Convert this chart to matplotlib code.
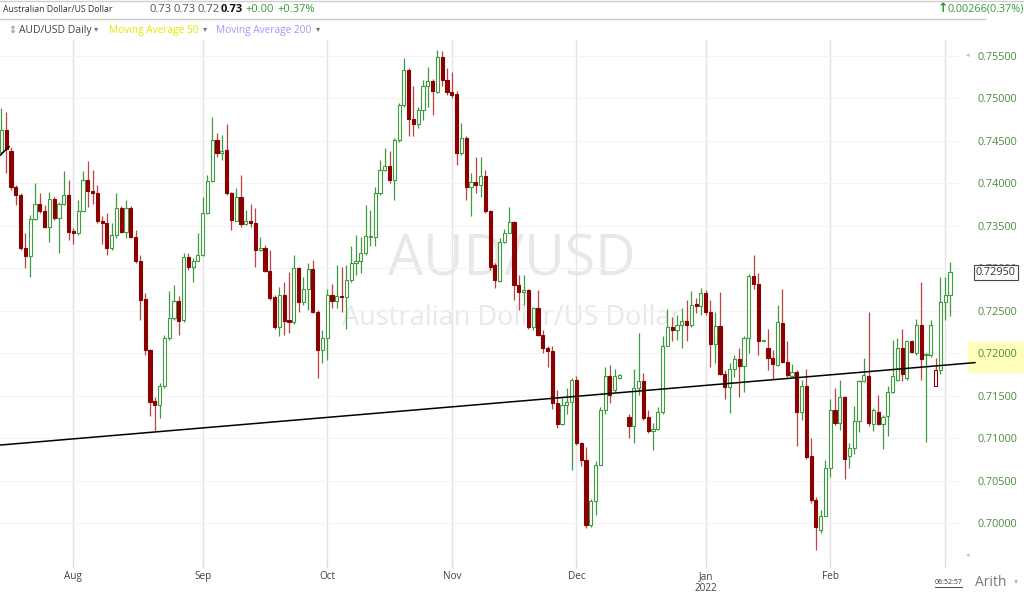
import numpy as np
import pandas as pd
import matplotlib
matplotlib.use('Agg')
import matplotlib.pyplot as plt
import matplotlib.transforms as mtransforms
from matplotlib.patches import Rectangle
from matplotlib.lines import Line2D

plt.rcParams['font.family'] = ['Open Sans', 'DejaVu Sans']

nan = np.nan

# daily AUD/USD bars (forex, no Saturday bars), 14 Jul 2021 .. 2 Mar 2022
opens = [
    0.7437, 0.7463, 0.7438, 0.7396, 0.7386, 0.7324, 0.7314, 0.7358, 0.7376, 0.7367,
    0.7349, 0.7382, 0.7359, 0.7376, 0.7386, 0.7344, 0.7341, 0.7367, 0.7404, 0.7391,
    0.7388, 0.7355, 0.7353, 0.7324, 0.7339, 0.7371, 0.7343, 0.7371, 0.7337, 0.7308,
    0.7264, 0.7204, 0.7144, 0.7139, 0.7161, 0.7218, 0.7242, 0.7261, 0.7239, 0.7313,
    0.7301, 0.7309, 0.7316, 0.7365, 0.7403, 0.7451, 0.7435, 0.7439, 0.7388, 0.7356,
    0.7384, 0.7352, 0.7355, 0.7353, 0.7321, 0.7324, 0.7297, 0.7266, 0.7231, 0.7269,
    0.7239, 0.7237, 0.7300, 0.7260, 0.7276, 0.7299, 0.7249, 0.7204, 0.7218, 0.7269,
    0.7262, 0.7267, 0.7266, 0.7286, 0.7306, 0.7309, 0.7318, 0.7337, 0.7337, 0.7388,
    0.7416, 0.7420, 0.7404, 0.7451, 0.7492, 0.7533, 0.7475, 0.7470, 0.7486, 0.7514,
    0.7520, 0.7507, 0.7549, 0.7522, 0.7507, 0.7505, 0.7435, 0.7453, 0.7396, 0.7402,
    0.7398, 0.7408, 0.7367, 0.7304, 0.7285, 0.7331, 0.7342, 0.7354, 0.7280, 0.7272,
    0.7274, 0.7231, 0.7253, 0.7222, 0.7206, 0.7203, 0.7141, 0.7117, 0.7139, 0.7143,
    0.7169, 0.7095, 0.7075, 0.6998, 0.7026, 0.7069, 0.7133, 0.7173, 0.7157, 0.7171,
    nan, 0.7125, 0.7114, 0.7159, 0.7167, 0.7125, 0.7108, 0.7111, 0.7131, 0.7209,
    0.7231, 0.7227, 0.7233, 0.7238, 0.7233, 0.7258, 0.7256, 0.7271, 0.7249, 0.7211,
    0.7232, 0.7176, 0.7160, 0.7181, 0.7193, 0.7185, 0.7218, 0.7291, 0.7281, 0.7214,
    0.7206, 0.7195, 0.7186, 0.7236, 0.7190, 0.7173, 0.7178, 0.7131, 0.7161, 0.7079,
    0.7027, 0.6992, 0.7009, 0.7065, 0.7133, 0.7118, 0.7148, 0.7079, 0.7089, 0.7120,
    0.7167, 0.7173, 0.7117, 0.7131, 0.7117, 0.7126, 0.7154, 0.7169, 0.7206, 0.7171,
    0.7214, 0.7200, 0.7233, 0.7198, 0.7198, 0.7161, 0.7180, 0.7260, 0.7269,
]
highs = [
    0.7488, 0.7484, 0.7443, 0.7398, 0.7388, 0.7341, 0.7363, 0.7400, 0.7388, 0.7374,
    0.7390, 0.7384, 0.7378, 0.7414, 0.7404, 0.7347, 0.7380, 0.7414, 0.7426, 0.7416,
    0.7398, 0.7361, 0.7365, 0.7353, 0.7389, 0.7373, 0.7380, 0.7373, 0.7345, 0.7316,
    0.7271, 0.7205, 0.7149, 0.7165, 0.7222, 0.7273, 0.7280, 0.7267, 0.7318, 0.7318,
    0.7312, 0.7341, 0.7384, 0.7410, 0.7478, 0.7459, 0.7457, 0.7470, 0.7390, 0.7394,
    0.7410, 0.7369, 0.7376, 0.7371, 0.7337, 0.7327, 0.7322, 0.7269, 0.7278, 0.7284,
    0.7296, 0.7316, 0.7302, 0.7290, 0.7306, 0.7310, 0.7251, 0.7227, 0.7276, 0.7282,
    0.7304, 0.7302, 0.7304, 0.7326, 0.7339, 0.7337, 0.7374, 0.7369, 0.7396, 0.7427,
    0.7441, 0.7438, 0.7453, 0.7494, 0.7547, 0.7535, 0.7514, 0.7490, 0.7522, 0.7537,
    0.7523, 0.7557, 0.7555, 0.7535, 0.7531, 0.7508, 0.7471, 0.7455, 0.7412, 0.7431,
    0.7431, 0.7416, 0.7369, 0.7306, 0.7335, 0.7346, 0.7372, 0.7356, 0.7292, 0.7292,
    0.7276, 0.7255, 0.7274, 0.7227, 0.7208, 0.7208, 0.7157, 0.7147, 0.7159, 0.7171,
    0.7173, 0.7096, 0.7090, 0.7029, 0.7073, 0.7137, 0.7184, 0.7186, 0.7182, 0.7176,
    nan, 0.7129, 0.7182, 0.7224, 0.7177, 0.7133, 0.7118, 0.7137, 0.7220, 0.7252,
    0.7243, 0.7245, 0.7253, 0.7263, 0.7273, 0.7265, 0.7277, 0.7274, 0.7263, 0.7249,
    0.7272, 0.7180, 0.7188, 0.7198, 0.7206, 0.7220, 0.7293, 0.7316, 0.7294, 0.7216,
    0.7229, 0.7204, 0.7257, 0.7276, 0.7214, 0.7187, 0.7180, 0.7169, 0.7182, 0.7100,
    0.7031, 0.7016, 0.7075, 0.7146, 0.7159, 0.7168, 0.7150, 0.7094, 0.7138, 0.7169,
    0.7195, 0.7249, 0.7136, 0.7151, 0.7127, 0.7161, 0.7216, 0.7218, 0.7228, 0.7216,
    0.7216, 0.7240, 0.7284, 0.7200, 0.7239, 0.7194, 0.7290, 0.7290, 0.7307,
]
lows = [
    0.7433, 0.7412, 0.7392, 0.7374, 0.7322, 0.7300, 0.7290, 0.7357, 0.7365, 0.7347,
    0.7331, 0.7357, 0.7318, 0.7374, 0.7333, 0.7329, 0.7339, 0.7367, 0.7372, 0.7376,
    0.7353, 0.7329, 0.7316, 0.7322, 0.7335, 0.7341, 0.7335, 0.7335, 0.7306, 0.7239,
    0.7198, 0.7126, 0.7108, 0.7124, 0.7159, 0.7216, 0.7239, 0.7222, 0.7237, 0.7298,
    0.7284, 0.7308, 0.7314, 0.7364, 0.7402, 0.7431, 0.7427, 0.7386, 0.7345, 0.7355,
    0.7349, 0.7351, 0.7349, 0.7302, 0.7320, 0.7296, 0.7263, 0.7229, 0.7220, 0.7222,
    0.7224, 0.7235, 0.7249, 0.7257, 0.7251, 0.7247, 0.7171, 0.7188, 0.7192, 0.7253,
    0.7253, 0.7249, 0.7228, 0.7284, 0.7292, 0.7294, 0.7316, 0.7326, 0.7326, 0.7386,
    0.7414, 0.7400, 0.7380, 0.7449, 0.7490, 0.7455, 0.7455, 0.7465, 0.7474, 0.7490,
    0.7480, 0.7506, 0.7514, 0.7504, 0.7500, 0.7422, 0.7433, 0.7380, 0.7361, 0.7388,
    0.7384, 0.7365, 0.7298, 0.7277, 0.7284, 0.7330, 0.7341, 0.7263, 0.7251, 0.7257,
    0.7229, 0.7227, 0.7220, 0.7200, 0.7184, 0.7135, 0.7112, 0.7116, 0.7129, 0.7063,
    0.7092, 0.7067, 0.6994, 0.6996, 0.7010, 0.7069, 0.7129, 0.7141, 0.7155, 0.7170,
    nan, 0.7100, 0.7094, 0.7151, 0.7122, 0.7106, 0.7086, 0.7110, 0.7129, 0.7208,
    0.7214, 0.7216, 0.7206, 0.7214, 0.7231, 0.7247, 0.7245, 0.7245, 0.7184, 0.7188,
    0.7174, 0.7146, 0.7130, 0.7172, 0.7149, 0.7155, 0.7200, 0.7276, 0.7198, 0.7214,
    0.7180, 0.7170, 0.7185, 0.7188, 0.7172, 0.7172, 0.7091, 0.7121, 0.7076, 0.7024,
    0.6969, 0.6988, 0.7008, 0.7055, 0.7116, 0.7110, 0.7052, 0.7065, 0.7082, 0.7107,
    0.7166, 0.7114, 0.7108, 0.7116, 0.7087, 0.7103, 0.7153, 0.7167, 0.7167, 0.7169,
    0.7200, 0.7198, 0.7169, 0.7096, 0.7196, 0.7161, 0.7176, 0.7239, 0.7244,
]
closes = [
    0.7463, 0.7440, 0.7396, 0.7386, 0.7324, 0.7314, 0.7358, 0.7376, 0.7367, 0.7349,
    0.7382, 0.7359, 0.7376, 0.7386, 0.7343, 0.7341, 0.7367, 0.7404, 0.7391, 0.7388,
    0.7355, 0.7353, 0.7324, 0.7339, 0.7371, 0.7343, 0.7371, 0.7337, 0.7308, 0.7263,
    0.7204, 0.7143, 0.7139, 0.7161, 0.7218, 0.7242, 0.7261, 0.7238, 0.7313, 0.7301,
    0.7309, 0.7316, 0.7365, 0.7403, 0.7451, 0.7435, 0.7438, 0.7388, 0.7357, 0.7384,
    0.7352, 0.7355, 0.7353, 0.7321, 0.7324, 0.7297, 0.7265, 0.7231, 0.7269, 0.7238,
    0.7237, 0.7300, 0.7260, 0.7276, 0.7299, 0.7249, 0.7204, 0.7218, 0.7269, 0.7262,
    0.7267, 0.7266, 0.7286, 0.7306, 0.7309, 0.7318, 0.7338, 0.7338, 0.7388, 0.7416,
    0.7420, 0.7404, 0.7451, 0.7492, 0.7533, 0.7475, 0.7470, 0.7486, 0.7514, 0.7520,
    0.7508, 0.7549, 0.7522, 0.7507, 0.7504, 0.7435, 0.7453, 0.7396, 0.7401, 0.7398,
    0.7408, 0.7367, 0.7302, 0.7286, 0.7331, 0.7342, 0.7354, 0.7280, 0.7272, 0.7274,
    0.7231, 0.7253, 0.7222, 0.7206, 0.7203, 0.7141, 0.7117, 0.7139, 0.7143, 0.7169,
    0.7095, 0.7075, 0.6998, 0.7026, 0.7069, 0.7133, 0.7173, 0.7151, 0.7173, 0.7175,
    nan, 0.7114, 0.7159, 0.7167, 0.7124, 0.7108, 0.7111, 0.7131, 0.7209, 0.7231,
    0.7227, 0.7233, 0.7238, 0.7233, 0.7257, 0.7256, 0.7271, 0.7248, 0.7211, 0.7232,
    0.7176, 0.7160, 0.7181, 0.7193, 0.7185, 0.7218, 0.7291, 0.7281, 0.7215, 0.7216,
    0.7194, 0.7187, 0.7237, 0.7190, 0.7174, 0.7178, 0.7131, 0.7161, 0.7078, 0.7027,
    0.6996, 0.7009, 0.7065, 0.7133, 0.7118, 0.7148, 0.7076, 0.7089, 0.7120, 0.7167,
    0.7174, 0.7118, 0.7133, 0.7117, 0.7125, 0.7154, 0.7173, 0.7206, 0.7176, 0.7214,
    0.7201, 0.7233, 0.7193, 0.7199, 0.7233, 0.7180, 0.7260, 0.7269, 0.7295,
]

# hand drawn trendline (bar index, price) and a stub of an older line at the left
trend_idx = [-0.3, 203.2]
trend_px = [0.7092, 0.7189]
stub_idx = [-0.3, 1.6]
stub_px = [0.7433, 0.7443]

price_ticks = [0.700, 0.705, 0.710, 0.715, 0.720, 0.725, 0.730, 0.735, 0.740, 0.745, 0.750, 0.755]
last_price = 0.7295

dates = pd.date_range('2021-07-14', '2022-03-02')
dates = dates[dates.dayofweek != 5]

o = np.array(opens)
h = np.array(highs)
l = np.array(lows)
c = np.array(closes)
x = np.arange(len(c))
ok = ~np.isnan(c)

prev_c = pd.Series(c).ffill().shift(1).to_numpy()
down = c < prev_c
filled = c < o

RED = '#8b0000'
RED_WICK = '#b84444'
GREEN = '#3f9b3f'

W, H = 1024, 596
fig = plt.figure(figsize=(W / 100, H / 100), dpi=100)
ax = fig.add_axes([0, (H - 560) / H, 962 / W, 520 / H])
ax.set_xlim(-0.31, 200.5)
ax.set_ylim(0.69568, 0.75685)
for s in ax.spines.values():
    s.set_visible(False)

edge = np.where(down, RED, GREEN)
wick = np.where(down, RED_WICK, GREEN)
face = np.where(filled, edge, 'white')

ax.vlines(x[ok], l[ok], h[ok], colors=wick[ok], lw=0.9, zorder=2)
ax.bar(x[ok], np.abs(c - o)[ok], bottom=np.minimum(o, c)[ok], width=0.66,
       color=face[ok], edgecolor=edge[ok], linewidth=0.8, zorder=3)

# month ticks
month_pos = []
month_lab = []
for i in range(1, len(dates)):
    if dates[i].month != dates[i - 1].month:
        month_pos.append(i)
        lab = dates[i].strftime('%b')
        if dates[i].month == 1:
            lab += '\n' + str(dates[i].year)
        if dates[i].month == 3:
            lab = ''
        month_lab.append(lab)
ax.set_xticks(month_pos)
ax.set_xticklabels(month_lab, fontsize=7.2, color='#444', linespacing=1.1)
ax.tick_params(axis='x', length=6, color='#dcdcdc', width=1, pad=2)
ax.xaxis.grid(True, color='#e4e4e4', lw=1.0, zorder=0)

ax.yaxis.tick_right()
ax.set_yticks(price_ticks)
ax.set_yticklabels([f'{v:.5f}' for v in price_ticks])
ax.tick_params(axis='y', length=0, pad=11, labelsize=7.8, labelcolor='#4e8a3e')
ax.yaxis.grid(True, color='#f3f3f3', lw=0.8, zorder=0)
ax.set_axisbelow(True)

# watermark
ax.text(0.532, 0.575, 'AUD/USD', transform=ax.transAxes, ha='center', va='center',
        fontsize=40, color='#e8e8e8', zorder=0)
ax.text(0.532, 0.465, 'Australian Dollar/US Dollar', transform=ax.transAxes,
        ha='center', va='center', fontsize=19.5, color='#e8e8e8', zorder=0)

# trendlines
ax.plot(trend_idx, trend_px, color='black', lw=1.1, clip_on=False, zorder=5)
ax.plot(stub_idx, stub_px, color='black', lw=1.1, zorder=5)

# price axis extras
fig.patches.append(Rectangle((968 / W, 1 - 373 / H), 56 / W, 31 / H,
                             transform=fig.transFigure, fc='#ffffbb', ec='none', zorder=-1))
blend = mtransforms.blended_transform_factory(ax.transAxes, ax.transData)
ax.text(976 / 962, last_price, f'{last_price:.5f}', transform=blend, ha='left', va='center',
        fontsize=7.8, color='#333', zorder=6,
        bbox=dict(boxstyle='square,pad=0.15', fc='white', ec='#444', lw=0.8))


def ftxt(px, py, s, **kw):
    kw.setdefault('va', 'center')
    fig.text(px / W, 1 - py / H, s, **kw)


ftxt(966, 56, '◂', fontsize=5, color='#c0c0c0')
ftxt(966, 556, '◂', fontsize=5, color='#c0c0c0')

# header rows
fig.add_artist(Line2D([0, 1], [1 - 0.5 / H] * 2, color='#cfcfcf', lw=1))
fig.add_artist(Line2D([0, 985 / W], [1 - 19 / H] * 2, color='#c8c8c8', lw=1))
ftxt(3, 9, 'Australian Dollar/US Dollar', fontsize=6.3, color='#333')
ftxt(150, 9, '0.73', fontsize=8, color='#555')
ftxt(173, 9, '0.73', fontsize=8, color='#555')
ftxt(197, 9, '0.72', fontsize=8, color='#555')
ftxt(221, 9, '0.73', fontsize=8, color='#111', fontweight='bold')
ftxt(245, 9, '+0.00', fontsize=8, color='#3a9a3a')
ftxt(277, 9, '+0.37%', fontsize=8, color='#3a9a3a')
ftxt(938, 9, '↑', fontsize=9, color='#2e9a2e', fontweight='bold')
ftxt(947, 9, '0.00266(0.37%)', fontsize=7.8, color='#3a9a3a')

ftxt(8, 30, '⇕', fontsize=7, color='#888')
ftxt(19, 30, 'AUD/USD Daily', fontsize=7.5, color='#444')
ftxt(94, 30, '▾', fontsize=6, color='#777')
ftxt(109, 30, 'Moving Average 50', fontsize=7.3, color='#e6e600')
ftxt(203, 30, '▾', fontsize=6, color='#777')
ftxt(216, 30, 'Moving Average 200', fontsize=7.3, color='#9b9bff')
ftxt(316, 30, '▾', fontsize=6, color='#777')

# bottom right status
ftxt(935, 582, '06:52:57', fontsize=5, color='#333')
fig.add_artist(Line2D([935 / W, 962 / W], [1 - 587 / H] * 2, color='#555', lw=0.8))
ftxt(975, 583, 'Arith', fontsize=10, color='#777')
ftxt(1014, 582, '▾', fontsize=6, color='#bbb')

fig.savefig('out.png', dpi=100)
